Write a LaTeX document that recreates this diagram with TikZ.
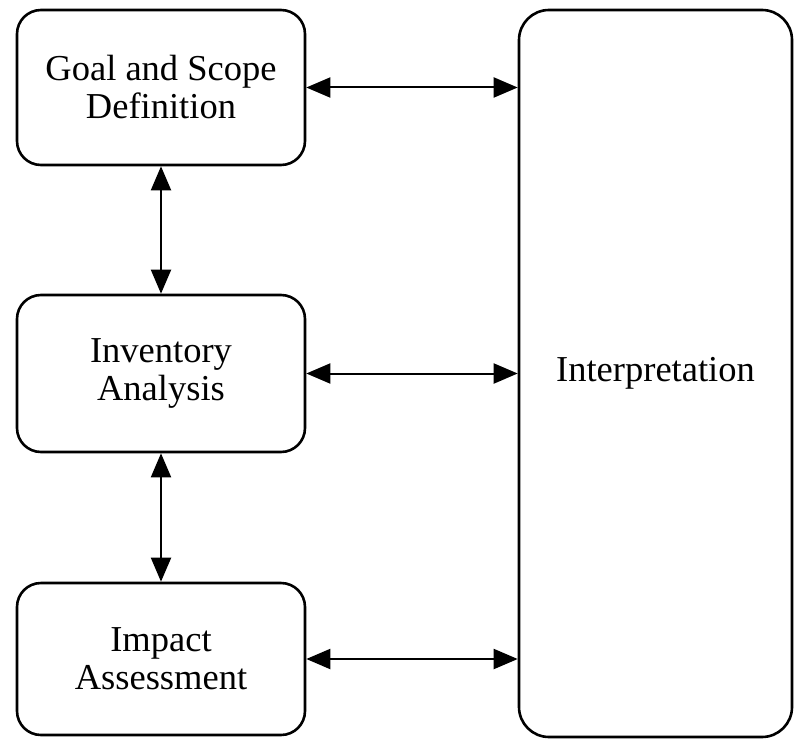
\documentclass[tikz,border=0pt]{standalone}
\usepackage{fontspec}
\setmainfont{Liberation Serif}
\usetikzlibrary{arrows.meta}

\tikzset{
  stage/.style={draw, line width=2.6pt, rounded corners=24pt, align=center,
    inner sep=0pt, minimum width=288pt, font=\fontsize{36.5}{38}\selectfont},
  link/.style={line width=2pt,
    {Triangle[length=24pt,width=20pt]}-{Triangle[length=24pt,width=20pt]}}
}

\begin{document}
\begin{tikzpicture}[x=1pt, y=-1pt]
  \useasboundingbox (0,0) rectangle (794,738);

  % stages on the left
  \node[stage, minimum height=155pt] (goal) at (161,87.5) {Goal and Scope\\Definition};
  \node[stage, minimum height=157pt] (inventory) at (161,373.5) {Inventory\\Analysis};
  \node[stage, minimum height=152pt] (impact) at (161,659) {Impact\\Assessment};

  % tall box on the right
  \node[stage, rounded corners=30pt, minimum width=273pt, minimum height=727pt] (interp) at (655.5,373.5) {Interpretation};

  % links between stages
  \draw[link] (goal.south) -- (inventory.north);
  \draw[link] (inventory.south) -- (impact.north);

  % links to interpretation
  \draw[link] (goal.east) -- (goal.east -| interp.west);
  \draw[link] (inventory.east) -- (inventory.east -| interp.west);
  \draw[link] (impact.east) -- (impact.east -| interp.west);
\end{tikzpicture}
\end{document}
